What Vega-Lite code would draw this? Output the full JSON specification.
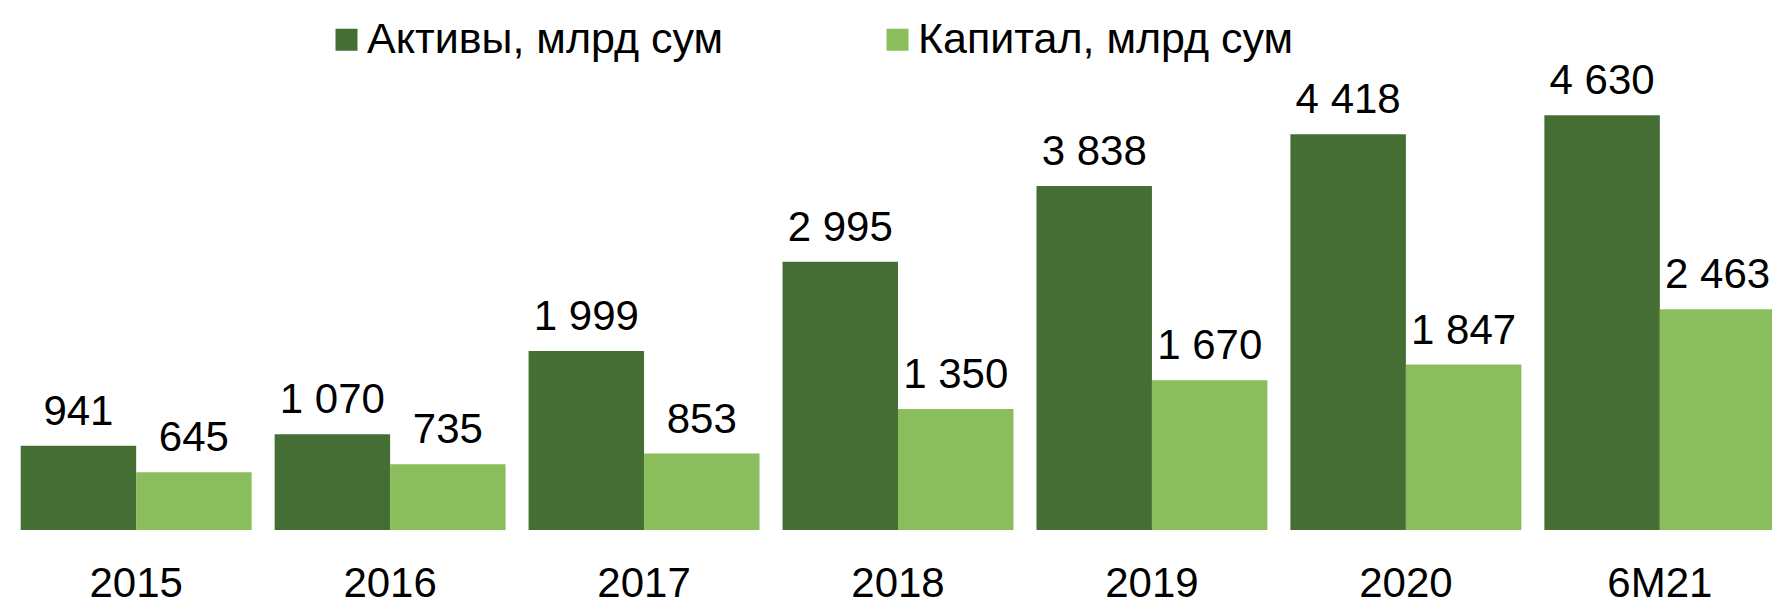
{
  "$schema": "https://vega.github.io/schema/vega-lite/v6.json",
  "width": 1772,
  "height": 448,
  "autosize": "none",
  "padding": {"left": 0, "top": 82, "right": 0, "bottom": 68},
  "background": "white",
  "config": {
    "view": {"stroke": null},
    "font": "Liberation Sans",
    "locale": {"number": {"decimal": ",", "thousands": " ", "grouping": [3], "currency": ["", ""]}}
  },
  "data": {
    "values": [
      {"period": "2015", "series": "Активы, млрд сум", "value": 941},
      {"period": "2015", "series": "Капитал, млрд сум", "value": 645},
      {"period": "2016", "series": "Активы, млрд сум", "value": 1070},
      {"period": "2016", "series": "Капитал, млрд сум", "value": 735},
      {"period": "2017", "series": "Активы, млрд сум", "value": 1999},
      {"period": "2017", "series": "Капитал, млрд сум", "value": 853},
      {"period": "2018", "series": "Активы, млрд сум", "value": 2995},
      {"period": "2018", "series": "Капитал, млрд сум", "value": 1350},
      {"period": "2019", "series": "Активы, млрд сум", "value": 3838},
      {"period": "2019", "series": "Капитал, млрд сум", "value": 1670},
      {"period": "2020", "series": "Активы, млрд сум", "value": 4418},
      {"period": "2020", "series": "Капитал, млрд сум", "value": 1847},
      {"period": "6M21", "series": "Активы, млрд сум", "value": 4630},
      {"period": "6M21", "series": "Капитал, млрд сум", "value": 2463}
    ]
  },
  "encoding": {
    "x": {
      "field": "period", "type": "nominal", "sort": null,
      "scale": {"range": [0, 1796], "paddingInner": 0.0906, "paddingOuter": 0.0815},
      "axis": {"title": null, "domain": false, "ticks": false, "labelAngle": 0, "labelFontSize": 42, "labelColor": "#000000", "labelBaseline": "alphabetic", "labelPadding": 66}
    },
    "xOffset": {
      "field": "series", "type": "nominal",
      "sort": ["Активы, млрд сум", "Капитал, млрд сум"],
      "scale": {"paddingInner": 0, "paddingOuter": 0}
    },
    "y": {"field": "value", "type": "quantitative", "scale": {"domain": [0, 5000], "nice": false}, "axis": null}
  },
  "layer": [
    {
      "mark": {"type": "bar"},
      "encoding": {
        "color": {
          "field": "series", "type": "nominal",
          "sort": ["Активы, млрд сум", "Капитал, млрд сум"],
          "scale": {"domain": ["Активы, млрд сум", "Капитал, млрд сум"], "range": ["#446E34", "#8ABE5C"]},
          "legend": {
            "title": null, "orient": "none", "direction": "horizontal",
            "legendX": 325, "legendY": -64,
            "symbolType": "square", "symbolSize": 484, "symbolStrokeWidth": 0,
            "labelFontSize": 43, "labelColor": "#000000", "labelOffset": -1, "labelLimit": 0,
            "columnPadding": 152
          }
        }
      }
    },
    {
      "mark": {"type": "text", "baseline": "alphabetic", "dy": -21, "fontSize": 42, "color": "#000000"},
      "encoding": {"text": {"field": "value", "type": "quantitative", "format": ",d"}}
    }
  ]
}
